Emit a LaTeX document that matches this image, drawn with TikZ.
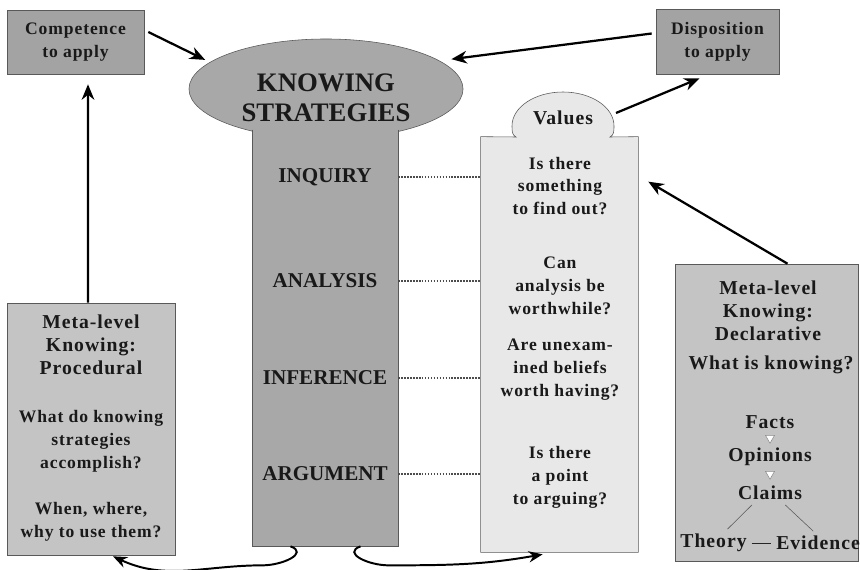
\documentclass[tikz,border=0pt]{standalone}
\usepackage{fontspec}
\setmainfont{Liberation Serif}
\newfontfamily\spacedfont{Liberation Serif}[LetterSpace=5]
\usetikzlibrary{shapes.geometric, arrows.meta, calc}
\definecolor{edgegray}{gray}{0.35}
\definecolor{topgray}{gray}{0.64}
\definecolor{metagray}{gray}{0.77}
\definecolor{colgray}{gray}{0.66}
\definecolor{valgray}{gray}{0.91}
\newcommand{\bodyfont}{\spacedfont\bfseries\fontsize{12.5}{16.3}\selectfont}
\newcommand{\titlefont}{\spacedfont\bfseries\fontsize{14}{16.3}\selectfont}
\tikzstyle{topbox} = [rectangle, draw=edgegray, fill=topgray, align=center, font=\bodyfont, text=black!90]
\tikzstyle{metabox} = [rectangle, draw=edgegray, fill=metagray]
\tikzstyle{txt} = [align=center, font=\bodyfont, text=black!90]
\tikzstyle{strat} = [font=\bfseries\fontsize{15}{18}\selectfont, text=black!90]
\tikzstyle{tri} = [regular polygon, regular polygon sides=3, shape border rotate=180, draw=black!45, fill=white, minimum size=0.26cm, inner sep=0pt]
\tikzstyle{link} = [densely dotted, line width=1.1pt, black!70]
\tikzstyle{arrow} = [line width=1.6pt, -{Stealth[length=11pt,width=9pt]}]
\tikzstyle{curvearrow} = [line width=1.4pt, -{Stealth[length=10pt,width=8pt]}]

\begin{document}
\begin{tikzpicture}[x=0.025cm, y=-0.025cm]
\useasboundingbox (0,0) rectangle (860,570);

% knowing strategies column
\node (ks) [ellipse, draw=edgegray, fill=colgray, inner sep=0pt, minimum width=6.85cm, minimum height=2.5cm] at (326,89) {};
\node (col) [rectangle, fill=colgray, minimum width=3.625cm, minimum height=10.4cm] at (325.5,338) {};
\draw [edgegray] (col.north west) -- (col.south west) -- (col.south east) -- (col.north east);
\node (kstext) [align=center, font=\bfseries\fontsize{19}{21}\selectfont, text=black!90] at (326,98) {KNOWING\\STRATEGIES};

\node (inq) [strat] at (325,177) {INQUIRY};
\node (ana) [strat] at (325,281) {ANALYSIS};
\node (inf) [strat] at (325,378) {INFERENCE};
\node (arg) [strat] at (325,474) {ARGUMENT};

% values box with its head
\node (val) [rectangle, minimum width=3.925cm, minimum height=10.375cm] at (559.5,344.5) {};
\filldraw [fill=valgray, draw=edgegray] (val.south west) -- (val.north west) -- (516,137)
  .. controls (512,135) and (512,131) .. (512,126)
  .. controls (512,107) and (535,92) .. (563,92)
  .. controls (591,92) and (614,107) .. (614,126)
  .. controls (614,131) and (614,135) .. (610,137)
  -- (val.north east) -- (val.south east) -- cycle;
\node (valhd) [txt, font=\titlefont] at (563,118) {Values};

\node (q1) [txt] at (560,186) {Is there\\something\\to find out?};
\node (q2) [txt] at (560,286) {Can\\analysis be\\worthwhile?};
\node (q3) [txt] at (560,370) {Are unexam-\\ined beliefs\\worth having?};
\node (q4) [txt] at (560,477) {Is there\\a point\\to arguing?};

\draw [link] (inq -| col.east) -- (inq -| val.west);
\draw [link] (ana -| col.east) -- (ana -| val.west);
\draw [link] (inf -| col.east) -- (inf -| val.west);
\draw [link] (arg -| col.east) -- (arg -| val.west);

% top boxes
\node (comp) [topbox, minimum width=3.425cm, minimum height=1.6cm] at (75.5,42) {Competence\\to apply};
\node (disp) [topbox, minimum width=3.075cm, minimum height=1.625cm] at (717.5,41.5) {Disposition\\to apply};

% procedural
\node (proc) [metabox, minimum width=4.2cm, minimum height=6.3cm] at (91,429) {};
\node (ptitle) [txt, font=\titlefont] at (91,345) {Meta-level\\Knowing:\\Procedural};
\node (pq) [txt] at (91,441) {What do knowing\\strategies\\accomplish?};
\node (pw) [txt] at (91,522) {When, where,\\why to use them?};

% declarative
\node (decl) [metabox, minimum width=4.575cm, minimum height=7.425cm] at (766.5,412.5) {};
\node (dtitle) [txt, font=\titlefont] at (768,311) {Meta-level\\Knowing:\\Declarative};
\node (dq) [txt, font=\titlefont] at (771,365) {What is knowing?};
\node (facts) [txt, font=\titlefont] at (770,422) {Facts};
\node (tri1) [tri] at (770,438) {};
\node (opin) [txt, font=\titlefont] at (770,457) {Opinions};
\node (tri2) [tri] at (770,474) {};
\node (claims) [txt, font=\titlefont] at (770,493) {Claims};
\node (theory) [txt, font=\titlefont] at (713.5,543) {Theory};
\node (evid) [txt, font=\titlefont] at (818,543) {Evidence};

\draw [edgegray] ([xshift=-0.45cm]claims.south) -- ([xshift=0.35cm]theory.north);
\draw [edgegray] ([xshift=0.38cm]claims.south) -- ([xshift=-0.12cm]evid.north);
\draw [black!85, line width=0.7pt] (theory) -- (evid);

% arrows
\draw [arrow, shorten >=0.13cm] ($(comp.east)+(4,-10)$) -- (ks.167);
\draw [arrow, shorten >=0.3cm] ($(disp.west)+(-4,-8)$) -- (ks.14);
\draw [arrow] ($(valhd.east)+(18,-5)$) -- ($(disp.south)+(-18,4)$);
\draw [arrow] ($(decl.north)+(21,0)$) -- ($(val.north east)+(10,45)$);
\draw [arrow] ($(proc.north)+(-3,0)$) -- ($(comp.south)+(12.5,10)$);

\draw [curvearrow] ($(col.south)+(-35,0)$) to[out=-20,in=0,looseness=1.5] ++(-28,19) to[out=180,in=-25] ($(proc.south)+(22,1)$);
\draw [curvearrow] ($(col.south)+(35,0)$) to[out=200,in=180,looseness=1.5] ++(28,19) to[out=0,in=190] ($(val.south west)+(62,2)$);
\end{tikzpicture}
\end{document}
